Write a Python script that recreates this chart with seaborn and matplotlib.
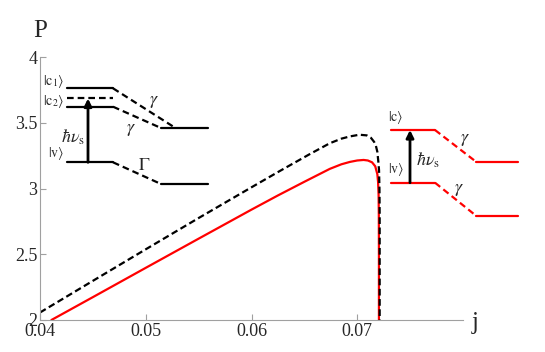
import pandas as pd
import seaborn as sns
import matplotlib.pyplot as plt

# curve values
j_black = [0.0400, 0.0450, 0.0500, 0.0550, 0.0600, 0.0627, 0.0655, 0.0674, 0.0685,
           0.0693, 0.0702, 0.0709, 0.0713, 0.0716, 0.07175, 0.0719, 0.0720, 0.07206,
           0.0721, 0.07212, 0.07212, 0.07212]
p_black = [2.057, 2.298, 2.538, 2.776, 3.010, 3.135, 3.262, 3.345, 3.380,
           3.397, 3.410, 3.405, 3.386, 3.355, 3.330, 3.280, 3.200, 3.140,
           3.000, 2.800, 2.400, 1.900]

j_red = [0.04108, 0.0450, 0.0500, 0.0550, 0.0600, 0.0625, 0.0650, 0.0674, 0.0685,
         0.0693, 0.0700, 0.0706, 0.0710, 0.0714, 0.0717, 0.0719, 0.07197, 0.07202,
         0.07204, 0.07205, 0.07205]
p_red = [2.000, 2.174, 2.397, 2.619, 2.840, 2.948, 3.052, 3.150, 3.185,
         3.203, 3.214, 3.218, 3.214, 3.200, 3.170, 3.110, 3.050, 2.950,
         2.800, 2.500, 1.900]

x_ticks = [0.04, 0.05, 0.06, 0.07]
x_tick_labels = ["0.04", "0.05", "0.06", "0.07"]
y_ticks = [2, 2.5, 3, 3.5, 4]
y_tick_labels = ["2", "2.5", "3", "3.5", "4"]

sns.set_style("ticks")
plt.rcParams["font.family"] = "serif"
plt.rcParams["font.serif"] = ["Liberation Serif", "DejaVu Serif"]
plt.rcParams["mathtext.fontset"] = "stix"

W, H = 545, 352
fig = plt.figure(figsize=(W / 100, H / 100), dpi=100)
ax = fig.add_axes([40 / W, 32 / H, 423 / W, 262.8 / H])

red_df = pd.DataFrame({"j": j_red, "P": p_red})
black_df = pd.DataFrame({"j": j_black, "P": p_black})
sns.lineplot(data=red_df, x="j", y="P", sort=False, estimator=None, color="red", lw=1.6, ax=ax)
sns.lineplot(data=black_df, x="j", y="P", sort=False, estimator=None, color="black", lw=1.6,
             linestyle=(0, (3, 1.6)), ax=ax)

ax.set_xlim(0.04, 0.08)
ax.set_ylim(2, 4)
ax.set_xticks(x_ticks, x_tick_labels)
ax.set_yticks(y_ticks, y_tick_labels)
ax.set_xlabel("")
ax.set_ylabel("")
sns.despine(ax=ax)
for side in ["left", "bottom"]:
    ax.spines[side].set_color("#a0a0a0")
    ax.spines[side].set_linewidth(0.8)
ax.tick_params(direction="in", length=4, width=0.8, color="#a0a0a0", labelsize=13, pad=2)

# overlay in pixel coordinates for axis names and the level diagrams
ov = fig.add_axes([0, 0, 1, 1], zorder=5)
ov.set_xlim(0, W)
ov.set_ylim(H, 0)
ov.axis("off")
ov.patch.set_visible(False)

ov.text(40, 31, "P", fontsize=18, ha="center", va="center")
ov.text(475, 323, "j", fontsize=18, ha="center", va="center")

dash = (0, (3, 1.8))
lw = 1.6

# left diagram (black)
k = "black"
ov.plot([67, 113], [88.3, 88.3], color=k, lw=lw)
ov.plot([113, 175], [88.3, 127.7], color=k, lw=lw, linestyle=dash)
ov.plot([67, 113], [97.7, 97.7], color=k, lw=lw, linestyle=dash)
ov.plot([67, 113], [106.7, 106.7], color=k, lw=lw)
ov.plot([113, 161], [106.7, 128], color=k, lw=lw, linestyle=dash)
ov.plot([161, 208], [128, 128], color=k, lw=lw)
ov.plot([67, 113], [162.3, 162.3], color=k, lw=lw)
ov.plot([113, 161], [162.3, 184], color=k, lw=lw, linestyle=dash)
ov.plot([161, 208], [184, 184], color=k, lw=lw)
ov.annotate("", xy=(88, 98.5), xytext=(88, 162.3),
            arrowprops=dict(arrowstyle="-|>", lw=2, color="black", mutation_scale=11, shrinkA=0, shrinkB=0))
ov.text(54, 82, r"$|{\rm c}_1\rangle$", fontsize=10, ha="center", va="center")
ov.text(54, 101.5, r"$|{\rm c}_2\rangle$", fontsize=10, ha="center", va="center")
ov.text(56, 153, r"$|{\rm v}\rangle$", fontsize=10, ha="center", va="center")
ov.text(73, 137, r"$\hbar\nu_{\rm s}$", fontsize=13, ha="center", va="center")
ov.text(154, 101, r"$\gamma$", fontsize=13, ha="center", va="center")
ov.text(131, 129, r"$\gamma$", fontsize=13, ha="center", va="center")
ov.text(144, 165, r"$\Gamma$", fontsize=13, ha="center", va="center")

# right diagram (red)
r = "red"
ov.plot([391, 435], [130, 130], color=r, lw=lw)
ov.plot([435, 476], [130, 161.7], color=r, lw=lw, linestyle=dash)
ov.plot([476, 518], [161.7, 161.7], color=r, lw=lw)
ov.plot([391, 435], [182.7, 182.7], color=r, lw=lw)
ov.plot([435, 476], [182.7, 215.7], color=r, lw=lw, linestyle=dash)
ov.plot([476, 518], [215.7, 215.7], color=r, lw=lw)
ov.annotate("", xy=(410, 130), xytext=(410, 182.7),
            arrowprops=dict(arrowstyle="-|>", lw=2, color="black", mutation_scale=11, shrinkA=0, shrinkB=0))
ov.text(396, 117, r"$|{\rm c}\rangle$", fontsize=10, ha="center", va="center")
ov.text(396, 170, r"$|{\rm v}\rangle$", fontsize=10, ha="center", va="center")
ov.text(428, 160, r"$\hbar\nu_{\rm s}$", fontsize=13, ha="center", va="center")
ov.text(465, 139, r"$\gamma$", fontsize=13, ha="center", va="center")
ov.text(459, 189, r"$\gamma$", fontsize=13, ha="center", va="center")

fig.savefig("out.png", dpi=100)
